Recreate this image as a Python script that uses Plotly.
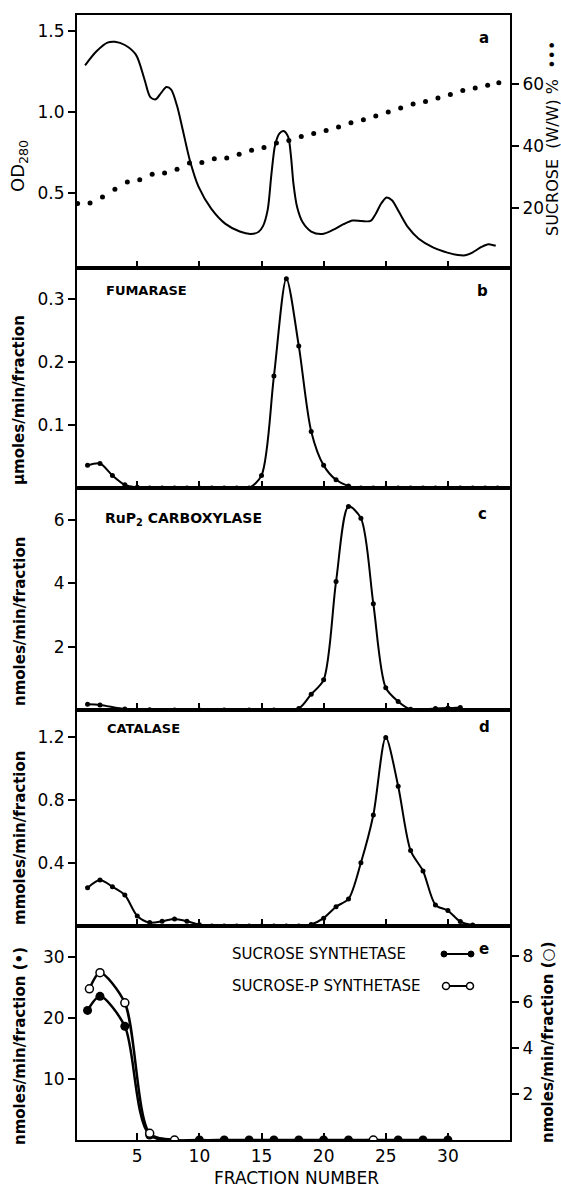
import plotly.graph_objects as go

# ---------------- data ----------------
# panel a: OD280 trace (continuous) and sucrose gradient (dots)
od_x = [0.8, 1.7, 2.6, 3.2, 4.0, 4.9, 5.6, 6.05, 6.48, 6.92, 7.35, 7.73, 8.2, 8.65, 9.22, 9.94,
        10.95, 12.1, 13.25, 14.12, 14.75, 15.13, 15.5, 15.8, 16.1, 16.45, 16.77, 17.14,
        17.37, 17.57, 17.86, 18.3, 19.0, 19.88, 20.75, 21.6, 22.33, 23.05, 23.77, 24.2, 24.63,
        25.06, 25.5, 26.07, 26.8, 27.65, 28.8, 29.96, 30.8, 31.4, 31.97, 32.7, 33.27, 33.85]
od_y = [1.29, 1.375, 1.43, 1.435, 1.415, 1.354, 1.198, 1.094, 1.08, 1.12, 1.156, 1.14, 1.04,
        0.896, 0.708, 0.54, 0.406, 0.312, 0.265, 0.25, 0.262, 0.30, 0.40, 0.62, 0.80, 0.87,
        0.885, 0.85, 0.73, 0.56, 0.417, 0.323, 0.265, 0.25, 0.275, 0.31, 0.333, 0.33, 0.33,
        0.375, 0.4375, 0.475, 0.458, 0.385, 0.29, 0.22, 0.167, 0.135, 0.12, 0.118, 0.135, 0.17,
        0.187, 0.177]

suc_x = [0.2, 1.2, 2.2, 3.2, 4.2, 5.2, 6.2, 7.2, 8.2, 9.2, 10.2, 11.2, 12.2, 13.2, 14.2, 15.2,
         16.2, 17.2, 18.2, 19.2, 20.2, 21.2, 22.2, 23.2, 24.2, 25.2, 26.2, 27.2, 28.2, 29.2,
         30.2, 31.2, 32.2, 33.2, 34.1]
suc_y = [21.3, 21.5, 23.4, 25.9, 28.3, 29.0, 30.8, 31.2, 32.4, 34.4, 34.6, 35.8, 36.0, 37.2,
         38.5, 39.4, 40.9, 41.7, 43.0, 43.9, 44.9, 46.0, 47.4, 48.4, 49.6, 50.9, 52.2, 53.5,
         54.3, 55.4, 56.5, 57.8, 58.6, 59.5, 60.3]

# panel b: fumarase
fum_x = list(range(1, 35))
fum_y = [0.036, 0.039, 0.020, 0.005, 0.001, 0, 0, 0, 0, 0, 0, 0, 0, 0, 0.020, 0.178, 0.333,
         0.226, 0.090, 0.036, 0.013, 0.003, 0, 0, 0, 0, 0, 0, 0, 0, 0, 0, 0, 0]

# panel c: RuP2 carboxylase
rub_x = [1, 2, 4, 6, 8, 10, 12, 14, 16, 18, 19, 20, 21, 22, 23, 24, 25, 26, 27, 29, 30, 31]
rub_y = [0.18, 0.16, 0.03, 0.01, 0, 0, 0, 0, 0, 0.05, 0.5, 0.95, 4.05, 6.42, 6.05, 3.35, 0.7,
         0.27, 0.02, 0.05, 0.06, 0.08]

# panel d: catalase
cat_x = list(range(1, 33))
cat_y = [0.244, 0.293, 0.25, 0.197, 0.064, 0.022, 0.03, 0.045, 0.03, 0.008, 0, 0, 0, 0, 0, 0,
         0, 0, 0.01, 0.05, 0.123, 0.172, 0.403, 0.707, 1.2, 0.89, 0.48, 0.35, 0.134, 0.098,
         0.028, 0.006]

# panel e: sucrose synthetase (filled, left axis) and sucrose-P synthetase (open, right axis)
ss_x = [1, 2, 4, 6, 10, 12, 14, 16, 18, 20, 22, 26, 28, 30]
ss_y = [21.2, 23.5, 18.6, 0.8, 0, 0, 0, 0, 0, 0, 0, 0, 0, 0]
sps_x = [1.15, 2, 4, 6, 8, 24]
sps_y = [6.57, 7.27, 5.96, 0.29, 0, 0]

x_ticks = [5, 10, 15, 20, 25, 30]
FONT = "DejaVu Sans"

# ---------------- layout geometry ----------------
W, H = 561, 1190
L, R, T, B = 77, 51, 15, 50
PH = H - T - B
def dom(y0, y1):
    return [(H - B - y1) / PH, (H - B - y0) / PH]
def px(xp):
    return (xp - L) / (W - L - R)
def py(yp):
    return (H - B - yp) / PH

fig = go.Figure()

# a
fig.add_trace(go.Scatter(x=od_x, y=od_y, mode="lines", line=dict(color="black", width=2, shape="spline", smoothing=0.8),
                         xaxis="x2", yaxis="y2", showlegend=False))
fig.add_trace(go.Scatter(x=suc_x, y=suc_y, mode="markers", marker=dict(color="black", size=5),
                         xaxis="x2", yaxis="y6", showlegend=False))
# b
fig.add_trace(go.Scatter(x=fum_x, y=fum_y, mode="lines+markers",
                         line=dict(color="black", width=2, shape="spline", smoothing=0.8),
                         marker=dict(color="black", size=5), xaxis="x3", yaxis="y3", showlegend=False))
# c
fig.add_trace(go.Scatter(x=rub_x, y=rub_y, mode="lines+markers",
                         line=dict(color="black", width=2, shape="spline", smoothing=0.8),
                         marker=dict(color="black", size=5), xaxis="x4", yaxis="y4", showlegend=False))
# d
fig.add_trace(go.Scatter(x=cat_x, y=cat_y, mode="lines+markers",
                         line=dict(color="black", width=2, shape="spline", smoothing=0.8),
                         marker=dict(color="black", size=5), xaxis="x5", yaxis="y5", showlegend=False))
# e
fig.add_trace(go.Scatter(x=sps_x, y=sps_y, mode="lines+markers",
                         line=dict(color="black", width=2.5, shape="spline", smoothing=0.8),
                         marker=dict(color="white", size=8, symbol="circle", line=dict(color="black", width=1.5)),
                         xaxis="x", yaxis="y7", showlegend=False))
fig.add_trace(go.Scatter(x=ss_x, y=ss_y, mode="lines+markers",
                         line=dict(color="black", width=2.5, shape="spline", smoothing=0.8),
                         marker=dict(color="black", size=9), xaxis="x", yaxis="y", showlegend=False))

axcommon = dict(showline=True, linecolor="black", linewidth=2, mirror=True, showgrid=False,
                zeroline=False, tickcolor="black", tickwidth=1.5, ticklen=7,
                tickfont=dict(family=FONT, size=17, color="black"))

def xax(anchor, labels):
    d = dict(axcommon)
    d.update(range=[0.15, 35], tickvals=x_ticks, ticks="inside", anchor=anchor,
             showticklabels=labels, domain=[0, 1])
    return d

def yax(domain, rng, tv, tt, anchor):
    d = dict(axcommon)
    d.update(domain=domain, range=rng, tickvals=tv, ticktext=tt, ticks="outside", anchor=anchor)
    return d

fig.update_layout(
    width=W, height=H, margin=dict(l=L, r=R, t=T, b=B), paper_bgcolor="white", plot_bgcolor="white",
    font=dict(family=FONT, color="black"),
    xaxis=xax("y", True),
    xaxis2=xax("y2", False),
    xaxis3=xax("y3", False),
    xaxis4=xax("y4", False),
    xaxis5=xax("y5", False),
    yaxis=yax(dom(926, 1140), [0, 35], [10, 20, 30], ["10", "20", "30"], "x"),
    yaxis2=yax(dom(15, 268), [0.04, 1.6], [0.5, 1.0, 1.5], ["0.5", "1.0", "1.5"], "x2"),
    yaxis3=yax(dom(268, 488), [0, 0.35], [0.1, 0.2, 0.3], ["0.1", "0.2", "0.3"], "x3"),
    yaxis4=yax(dom(488, 710), [0, 7], [2, 4, 6], ["2", "4", "6"], "x4"),
    yaxis5=yax(dom(710, 926), [0, 1.375], [0.4, 0.8, 1.2], ["0.4", "0.8", "1.2"], "x5"),
)
y6 = yax(dom(15, 268), [0.5, 82.2], [20, 40, 60], ["20", "40", "60"], "x2")
y6.update(overlaying="y2", side="right", mirror=False)
y7 = yax(dom(926, 1140), [0, 9.3], [2, 4, 6, 8], ["2", "4", "6", "8"], "x")
y7.update(overlaying="y", side="right", mirror=False)
fig.update_layout(yaxis6=y6, yaxis7=y7)

ann = []
def A(text, x, y, size, bold=False, angle=0, xanchor="center"):
    t = f"<b>{text}</b>" if bold else text
    ann.append(dict(text=t, x=px(x), y=py(y), xref="paper", yref="paper", showarrow=False,
                    textangle=angle, xanchor=xanchor, yanchor="middle",
                    font=dict(family=FONT, size=size, color="black")))

# panel letters
A("a", 484, 38, 15, True)
A("b", 482, 291, 15, True)
A("c", 482, 514, 15, True)
A("d", 484, 727, 15, True)
A("e", 484, 949, 15, True)
# panel names
A("FUMARASE", 104, 290, 13, True, xanchor="left")
A("RuP<sub>2</sub> CARBOXYLASE", 103, 519, 14, True, xanchor="left")
A("CATALASE", 105, 728, 13, True, xanchor="left")
# legend text in e
A("SUCROSE SYNTHETASE", 230, 954, 15, xanchor="left")
A("SUCROSE-P SYNTHETASE", 230, 986, 15, xanchor="left")
# axis titles
A("OD<sub>280</sub>", 19, 166, 18, angle=-90)
A("µmoles/min/fraction", 19, 400, 15, True, angle=-90)
A("nmoles/min/fraction", 20, 621, 15, True, angle=-90)
A("mmoles/min/fraction", 20, 838, 15, True, angle=-90)
A("nmoles/min/fraction (•)", 20, 1046, 15, True, angle=-90)
A("nmoles/min/fraction (○)", 548, 1042, 15, True, angle=-90)
A("SUCROSE  (W/W) %  •••", 552, 139, 16, angle=-90)
A("FRACTION NUMBER", 296, 1178, 17)
fig.update_layout(annotations=ann)

# legend symbols (decoration) in panel e
shapes = []
shapes.append(dict(type="line", xref="paper", yref="paper", x0=px(444), x1=px(471), y0=py(954), y1=py(954),
                   line=dict(color="black", width=2)))
for xx in (444, 471):
    shapes.append(dict(type="circle", xref="paper", yref="paper", xsizemode="pixel", ysizemode="pixel",
                       xanchor=px(xx), yanchor=py(954), x0=-3, x1=3, y0=-3, y1=3,
                       fillcolor="black", line=dict(color="black", width=1)))
shapes.append(dict(type="line", xref="paper", yref="paper", x0=px(449), x1=px(467), y0=py(986), y1=py(986),
                   line=dict(color="black", width=2)))
for xx in (446, 470):
    shapes.append(dict(type="circle", xref="paper", yref="paper", xsizemode="pixel", ysizemode="pixel",
                       xanchor=px(xx), yanchor=py(986), x0=-3.5, x1=3.5, y0=-3.5, y1=3.5,
                       fillcolor="white", line=dict(color="black", width=1.5)))
fig.update_layout(shapes=shapes)

fig.write_html("out.html")
